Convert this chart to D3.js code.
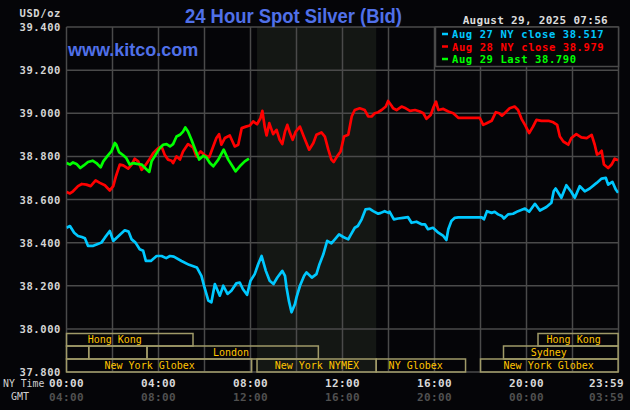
<!DOCTYPE html>
<html>
<head>
<meta charset="utf-8">
<script src="https://cdn.jsdelivr.net/npm/d3@7"></script>
<style>
  body { margin: 0; background: #050508; }
  svg { display: block; }
</style>
</head>
<body>
<svg id="chart"></svg>
<script>
// minutes after NY midnight, price in USD/oz
const aug27 = [
  [0,38.469],[9,38.477],[20,38.446],[30,38.431],[40,38.426],[48,38.420],[56,38.385],[70,38.385],[80,38.392],[91,38.400],[100,38.423],[113,38.454],[122,38.408],[140,38.438],[152,38.457],[162,38.451],[170,38.415],[180,38.400],[191,38.369],[200,38.362],[207,38.315],[220,38.315],[235,38.338],[248,38.338],[260,38.328],[270,38.338],
  [280,38.335],[300,38.315],[320,38.297],[340,38.285],[352,38.246],[360,38.192],[370,38.131],[378,38.123],[387,38.208],[400,38.154],[409,38.200],[420,38.162],[430,38.177],[443,38.211],[452,38.215],[460,38.185],[471,38.158],[480,38.223],[491,38.254],[500,38.300],[509,38.338],[520,38.269],[530,38.223],[540,38.208],[550,38.238],[560,38.262],
  [563,38.269],[570,38.246],[574,38.192],[580,38.131],[587,38.077],[596,38.115],[600,38.146],[609,38.200],[620,38.246],[626,38.262],[640,38.238],[652,38.254],[660,38.300],[670,38.346],[680,38.408],[691,38.397],[700,38.415],[711,38.438],[722,38.426],[735,38.415],[740,38.431],[752,38.469],[760,38.477],[770,38.508],[780,38.554],[791,38.557],[800,38.546],[813,38.534],[820,38.538],[830,38.546],[840,38.538],
  [843,38.543],[854,38.508],[865,38.512],[878,38.515],[891,38.518],[900,38.492],[913,38.497],[926,38.485],[935,38.485],[943,38.462],[956,38.469],[970,38.446],[983,38.431],[991,38.412],[996,38.462],[1004,38.500],[1013,38.515],[1022,38.517],[1083,38.517],[1089,38.508],[1097,38.546],[1109,38.538],[1117,38.543],[1126,38.531],[1136,38.523],
  [1141,38.512],[1152,38.531],[1165,38.534],[1178,38.546],[1196,38.558],[1207,38.543],[1222,38.580],[1235,38.549],[1252,38.565],[1265,38.585],[1271,38.638],[1276,38.651],[1291,38.608],[1304,38.666],[1317,38.635],[1326,38.608],[1339,38.662],[1352,38.638],[1365,38.651],[1383,38.677],[1396,38.697],[1407,38.700],[1413,38.669],[1424,38.682],[1433,38.646],[1439,38.631]
]

const aug28 = [
  [0,38.635],[9,38.628],[17,38.638],[30,38.662],[40,38.672],[52,38.669],[63,38.662],[76,38.689],[87,38.677],[100,38.666],[113,38.642],[122,38.662],[129,38.708],[139,38.762],[148,38.758],[161,38.743],[170,38.762],[178,38.789],[187,38.777],[196,38.738],[204,38.754],[216,38.785],[226,38.815],[239,38.838],[248,38.846],[256,38.808],[265,38.785],[274,38.780],
  [278,38.769],[287,38.800],[296,38.785],[304,38.823],[317,38.857],[330,38.842],[339,38.800],[350,38.823],[361,38.805],[372,38.795],[381,38.838],[391,38.885],[398,38.903],[404,38.854],[413,38.885],[426,38.897],[439,38.846],[448,38.854],[457,38.931],[468,38.938],[478,38.943],[487,38.962],[497,38.949],[506,38.977],[511,39.011],[517,38.938],[522,38.897],[529,38.954],[539,38.903],[548,38.923],[556,38.877],
  [563,38.857],[570,38.915],[576,38.946],[583,38.908],[590,38.877],[598,38.915],[609,38.938],[619,38.892],[633,38.831],[644,38.862],[652,38.900],[665,38.911],[674,38.892],[683,38.831],[691,38.785],[697,38.774],[706,38.800],[715,38.823],[724,38.892],[735,38.900],[744,38.985],[752,39.015],[765,39.023],[778,39.015],[787,38.985],[796,38.985],[804,39.000],[813,39.005],[822,39.015],[833,39.031],[839,39.057],[848,39.035],
  [852,39.023],[861,39.015],[874,39.031],[885,39.023],[896,39.011],[909,39.015],[922,39.008],[931,39.000],[939,38.974],[950,38.992],[958,39.031],[964,39.054],[970,39.015],[983,39.020],[996,39.008],[1009,39.000],[1022,38.979],[1078,38.979],[1087,38.946],[1096,38.954],[1109,38.965],[1120,39.005],[1129,39.000],[1136,38.989],
  [1143,39.000],[1156,39.023],[1169,39.031],[1178,39.015],[1187,38.974],[1196,38.946],[1207,38.908],[1217,38.938],[1226,38.969],[1239,38.965],[1257,38.965],[1270,38.958],[1280,38.946],[1287,38.892],[1296,38.869],[1309,38.854],[1317,38.885],[1330,38.903],[1343,38.888],[1357,38.885],[1370,38.900],[1378,38.854],[1384,38.808],[1391,38.815],[1396,38.826],[1402,38.762],[1413,38.746],[1422,38.762],[1430,38.789],[1439,38.782]
]

const aug29 = [
  [0,38.769],[9,38.762],[17,38.772],[26,38.765],[36,38.746],[45,38.758],[56,38.774],[68,38.780],[78,38.769],[89,38.749],[96,38.777],[106,38.800],[117,38.823],[126,38.862],[130,38.854],[137,38.820],[148,38.805],[156,38.792],[165,38.762],[174,38.769],[184,38.765],[196,38.762],[207,38.743],[216,38.728],[222,38.777],[230,38.800],[242,38.835],[252,38.854],[261,38.857],[270,38.846],
  [278,38.857],[287,38.892],[296,38.900],[304,38.915],[310,38.934],[317,38.915],[326,38.877],[335,38.835],[346,38.785],[357,38.803],[365,38.795],[374,38.769],[383,38.754],[396,38.785],[410,38.831],[422,38.785],[433,38.754],[441,38.731],[452,38.754],[465,38.777],[476,38.790]
]

const legendLabels = ["Aug 27 NY close 38.517", "Aug 28 NY close 38.979", "Aug 29 Last 38.790"]
const seriesColors = ["#00c8ff", "#ff0000", "#00ff00"]

const yTicks = [37.8, 38.0, 38.2, 38.4, 38.6, 38.8, 39.0, 39.2, 39.4]
const nyTimes = ["00:00", "04:00", "08:00", "12:00", "16:00", "20:00", "23:59"]
const gmtTimes = ["04:00", "08:00", "12:00", "16:00", "20:00", "00:00", "03:59"]
const timeTickMin = [0, 240, 480, 720, 960, 1200, 1439]

// trading sessions (minutes), row 0 = top row
const sessNames = ["Hong Kong", "Hong Kong", "", "", "London", "Sydney", "New York Globex", "New York NYMEX", "NY Globex", "New York Globex"]
const sessRow   = [0, 0, 1, 1, 1, 1, 2, 2, 2, 2]
const sessStart = [0, 1230, 0, 58, 210, 1140, 0, 497, 808, 1080]
const sessEnd   = [330, 1439, 58, 210, 657, 1439, 483, 808, 1041, 1439]
const sessLabel = [126, 1323, 0, 0, 429, 1258, 217, 653, 911, 1258]
const nymexOpen = [497, 808]

const W = 630, H = 410
const bg = "#050508", grid = "#4a4a4a", blue = "#5070e8"
const mono = "'DejaVu Sans Mono', monospace"

const svg = d3.select("#chart").attr("width", W).attr("height", H)
svg.append("rect").attr("width", W).attr("height", H).attr("fill", bg)

const x = d3.scaleLinear().domain([0, 1440]).range([66.5, 618.5])
const y = d3.scaleLinear().domain([37.8, 39.4]).range([372, 27])

// NYMEX shading
svg.append("rect")
    .attr("x", x(nymexOpen[0])).attr("y", y(39.4))
    .attr("width", x(nymexOpen[1]) - x(nymexOpen[0]))
    .attr("height", y(37.8) - y(39.4))
    .attr("fill", "#141714")

// grid
svg.append("g").selectAll("line")
  .data(yTicks).enter().append("line")
    .attr("x1", x(0)).attr("x2", x(1440))
    .attr("y1", d => y(d)).attr("y2", d => y(d))
    .attr("stroke", grid).attr("stroke-width", 1.5)

svg.append("g").selectAll("line")
  .data(d3.range(0, 1441, 120)).enter().append("line")
    .attr("x1", d => x(d)).attr("x2", d => x(d))
    .attr("y1", y(39.4)).attr("y2", y(37.8))
    .attr("stroke", grid).attr("stroke-width", 1.5)

// session boxes
const rowTop = [333.5, 346, 359], rowH = [12.5, 13, 13]
const sess = svg.append("g").selectAll("g")
  .data(sessNames.map((n, i) => ({ name: n, row: sessRow[i], s: sessStart[i], e: sessEnd[i], l: sessLabel[i] })))
  .enter().append("g")

sess.append("rect")
    .attr("x", d => x(d.s)).attr("y", d => rowTop[d.row])
    .attr("width", d => x(d.e) - x(d.s)).attr("height", d => rowH[d.row])
    .attr("fill", "none").attr("stroke", "#a09a68").attr("stroke-width", 1.5)

sess.append("text")
    .attr("x", d => x(d.l)).attr("y", d => rowTop[d.row] + rowH[d.row] / 2 + 3.5)
    .attr("text-anchor", "middle")
    .attr("fill", "#ffc400")
    .style("font-family", mono).style("font-size", "10px")
    .text(d => d.name)

// price lines
svg.append("clipPath").attr("id", "plot")
  .append("rect").attr("x", x(0)).attr("y", y(39.4))
    .attr("width", x(1440) - x(0)).attr("height", y(37.8) - y(39.4))

const line = d3.line().x(d => x(d[0])).y(d => y(d[1]))

svg.append("g").attr("clip-path", "url(#plot)")
  .selectAll("path")
  .data([aug27, aug28, aug29]).enter().append("path")
    .attr("d", line)
    .attr("fill", "none")
    .attr("stroke", (d, i) => seriesColors[i])
    .attr("stroke-width", 2.7)
    .attr("stroke-linejoin", "round")

// legend
svg.append("rect")
    .attr("x", 435.5).attr("y", y(39.4))
    .attr("width", x(1440) - 435.5).attr("height", 39.5)
    .attr("fill", bg).attr("stroke", grid).attr("stroke-width", 1.5)

const leg = svg.append("g").selectAll("g")
  .data(legendLabels).enter().append("g")
    .attr("transform", (d, i) => "translate(442," + (38 + i * 12.5) + ")")

leg.append("line")
    .attr("x1", 0).attr("x2", 6).attr("y1", -4).attr("y2", -4)
    .attr("stroke", (d, i) => seriesColors[i]).attr("stroke-width", 2.5)

leg.append("text")
    .attr("x", 10)
    .attr("fill", (d, i) => seriesColors[i])
    .style("font-family", mono).style("font-size", "10.5px").style("font-weight", "bold")
    .style("letter-spacing", "0.6px")
    .text(d => d)

// y labels
svg.append("g").selectAll("text")
  .data(yTicks).enter().append("text")
    .attr("x", 61).attr("y", d => y(d) + 4)
    .attr("text-anchor", "end")
    .attr("fill", "#d4d4d4")
    .style("font-family", mono).style("font-size", "10.5px").style("font-weight", "bold")
    .style("letter-spacing", "0.6px")
    .text(d => d3.format(".3f")(d))

svg.append("text")
    .attr("x", 61).attr("y", 17)
    .attr("text-anchor", "end")
    .attr("fill", "#d4d4d4")
    .style("font-family", mono).style("font-size", "10.5px").style("font-weight", "bold")
    .style("letter-spacing", "0.6px")
    .text("USD/oz")

// x labels
function timeRow (labels, yPos, color) {
  svg.append("g").selectAll("text")
    .data(labels).enter().append("text")
      .attr("x", (d, i) => i == labels.length - 1 ? 624 : x(timeTickMin[i]))
      .attr("y", yPos)
      .attr("text-anchor", (d, i) => i == labels.length - 1 ? "end" : "middle")
      .attr("fill", color)
      .style("font-family", mono).style("font-size", "11px").style("font-weight", "bold")
      .style("letter-spacing", "0.4px")
      .text(d => d)
}
timeRow(nyTimes, 387, "#d8d8d8")
timeRow(gmtTimes, 400.5, "#505050")

svg.append("text").attr("x", 3).attr("y", 387)
    .attr("fill", "#d0d0d0").style("font-family", mono).style("font-size", "9.8px")
    .text("NY Time")
svg.append("text").attr("x", 11).attr("y", 400)
    .attr("fill", "#d0d0d0").style("font-family", mono).style("font-size", "10px")
    .text("GMT")

// titles
svg.append("text")
    .attr("x", 185).attr("y", 23)
    .attr("fill", blue)
    .attr("textLength", 217).attr("lengthAdjust", "spacingAndGlyphs")
    .style("font-family", "'Liberation Sans', Arial, sans-serif").style("font-size", "20px").style("font-weight", "bold")
    .text("24 Hour Spot Silver (Bid)")

svg.append("text")
    .attr("x", 68).attr("y", 56)
    .attr("fill", blue)
    .style("font-family", "'Liberation Sans', Arial, sans-serif").style("font-size", "18px").style("font-weight", "bold")
    .text("www.kitco.com")

svg.append("text")
    .attr("x", 608).attr("y", 24)
    .attr("text-anchor", "end")
    .attr("fill", "#dcdcdc")
    .style("font-family", mono).style("font-size", "11px").style("font-weight", "bold")
    .style("letter-spacing", "0.3px")
    .text("August 29, 2025 07:56")
</script>
</body>
</html>
